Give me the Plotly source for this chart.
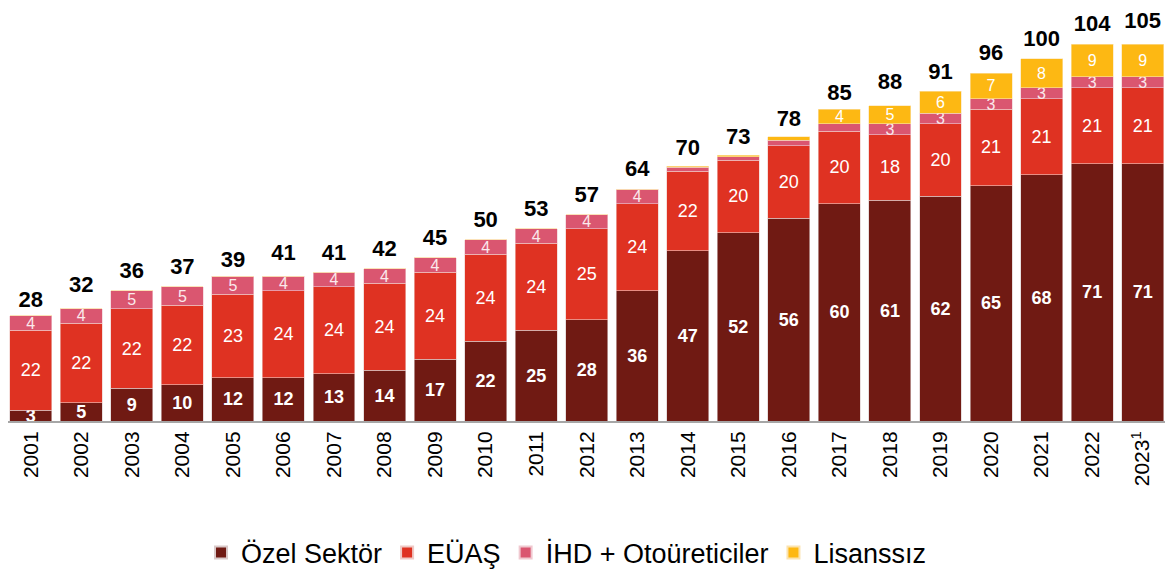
import plotly.graph_objects as go

years = [str(y) for y in range(2001, 2024)]
year_labels = years[:-1] + ["2023<sup>1</sup>"]

ozel = [3, 5, 9, 10, 12, 12, 13, 14, 17, 22, 25, 28, 36, 47, 52, 56, 60, 61, 62, 65, 68, 71, 71]
euas = [22, 22, 22, 22, 23, 24, 24, 24, 24, 24, 24, 25, 24, 22, 20, 20, 20, 18, 20, 21, 21, 21, 21]
ihd = [4, 4, 5, 5, 5, 4, 4, 4, 4, 4, 4, 4, 4, 1, 1, 1.5, 2, 3, 3, 3, 3, 3, 3]
lisanssiz = [0, 0, 0, 0, 0, 0, 0, 0, 0, 0, 0, 0, 0, 0.3, 0.4, 1, 4, 5, 6, 7, 8, 9, 9]
totals = [28, 32, 36, 37, 39, 41, 41, 42, 45, 50, 53, 57, 64, 70, 73, 78, 85, 88, 91, 96, 100, 104, 105]

ihd_text = [str(int(v)) if v >= 3 else "" for v in ihd]
lis_text = [str(int(v)) if v >= 4 else "" for v in lisanssiz]

colors = {"ozel": "#701A13", "euas": "#DF3222", "ihd": "#DA5670", "lis": "#FDB813"}
font_family = "Liberation Sans, Arial, sans-serif"

common = dict(textposition="inside", insidetextanchor="middle", constraintext="none", textangle=0)

fig = go.Figure()
fig.add_bar(x=years, y=ozel, name="Özel Sektör", marker_color=colors["ozel"],
            text=["<b>%d</b>" % v for v in ozel],
            textfont=dict(color="white", size=18, family=font_family),
            marker_line=dict(color="#d9c9c9", width=0.6), **common)
fig.add_bar(x=years, y=euas, name="EÜAŞ", marker_color=colors["euas"],
            text=[str(v) for v in euas],
            textfont=dict(color="white", size=18, family=font_family),
            marker_line=dict(color="#efc9c5", width=0.6), **common)
fig.add_bar(x=years, y=ihd, name="İHD + Otoüreticiler", marker_color=colors["ihd"],
            text=ihd_text,
            textfont=dict(color="#fbe9ec", size=16, family=font_family),
            marker_line=dict(color="#f0c9d0", width=0.6), **common)
fig.add_bar(x=years, y=lisanssiz, name="Lisanssız", marker_color=colors["lis"],
            text=lis_text,
            textfont=dict(color="white", size=16, family=font_family),
            marker_line=dict(color="#fbe3b0", width=0.6), **common)

fig.add_scatter(x=years, y=totals, mode="markers+text", text=["<b>%d</b>" % t for t in totals],
                marker=dict(size=10, color="rgba(0,0,0,0)"),
                textposition="top center", showlegend=False, hoverinfo="skip",
                textfont=dict(size=22, color="black", family=font_family), cliponaxis=False)

fig.update_layout(
    barmode="stack",
    bargap=0.17,
    width=1165, height=566,
    margin=dict(l=0, r=0, t=0, b=153, autoexpand=False),
    plot_bgcolor="white", paper_bgcolor="white",
    font=dict(family=font_family, color="black"),
    showlegend=True,
    legend=dict(orientation="h", x=0.479, xanchor="center", y=-0.3196, yanchor="middle",
                font=dict(size=27, color="black"), itemsizing="constant", traceorder="normal"),
    xaxis=dict(type="category", range=[-0.45, 22.6], tickmode="array", tickvals=years,
               ticktext=year_labels, tickangle=-90, automargin=False,
               tickfont=dict(size=21, color="black"), showline=True, linecolor="#a6a6a6",
               linewidth=2, ticks="", showgrid=False),
    yaxis=dict(range=[0, 114.0], visible=False, showgrid=False, automargin=False),
)

fig.write_html("out.html")
